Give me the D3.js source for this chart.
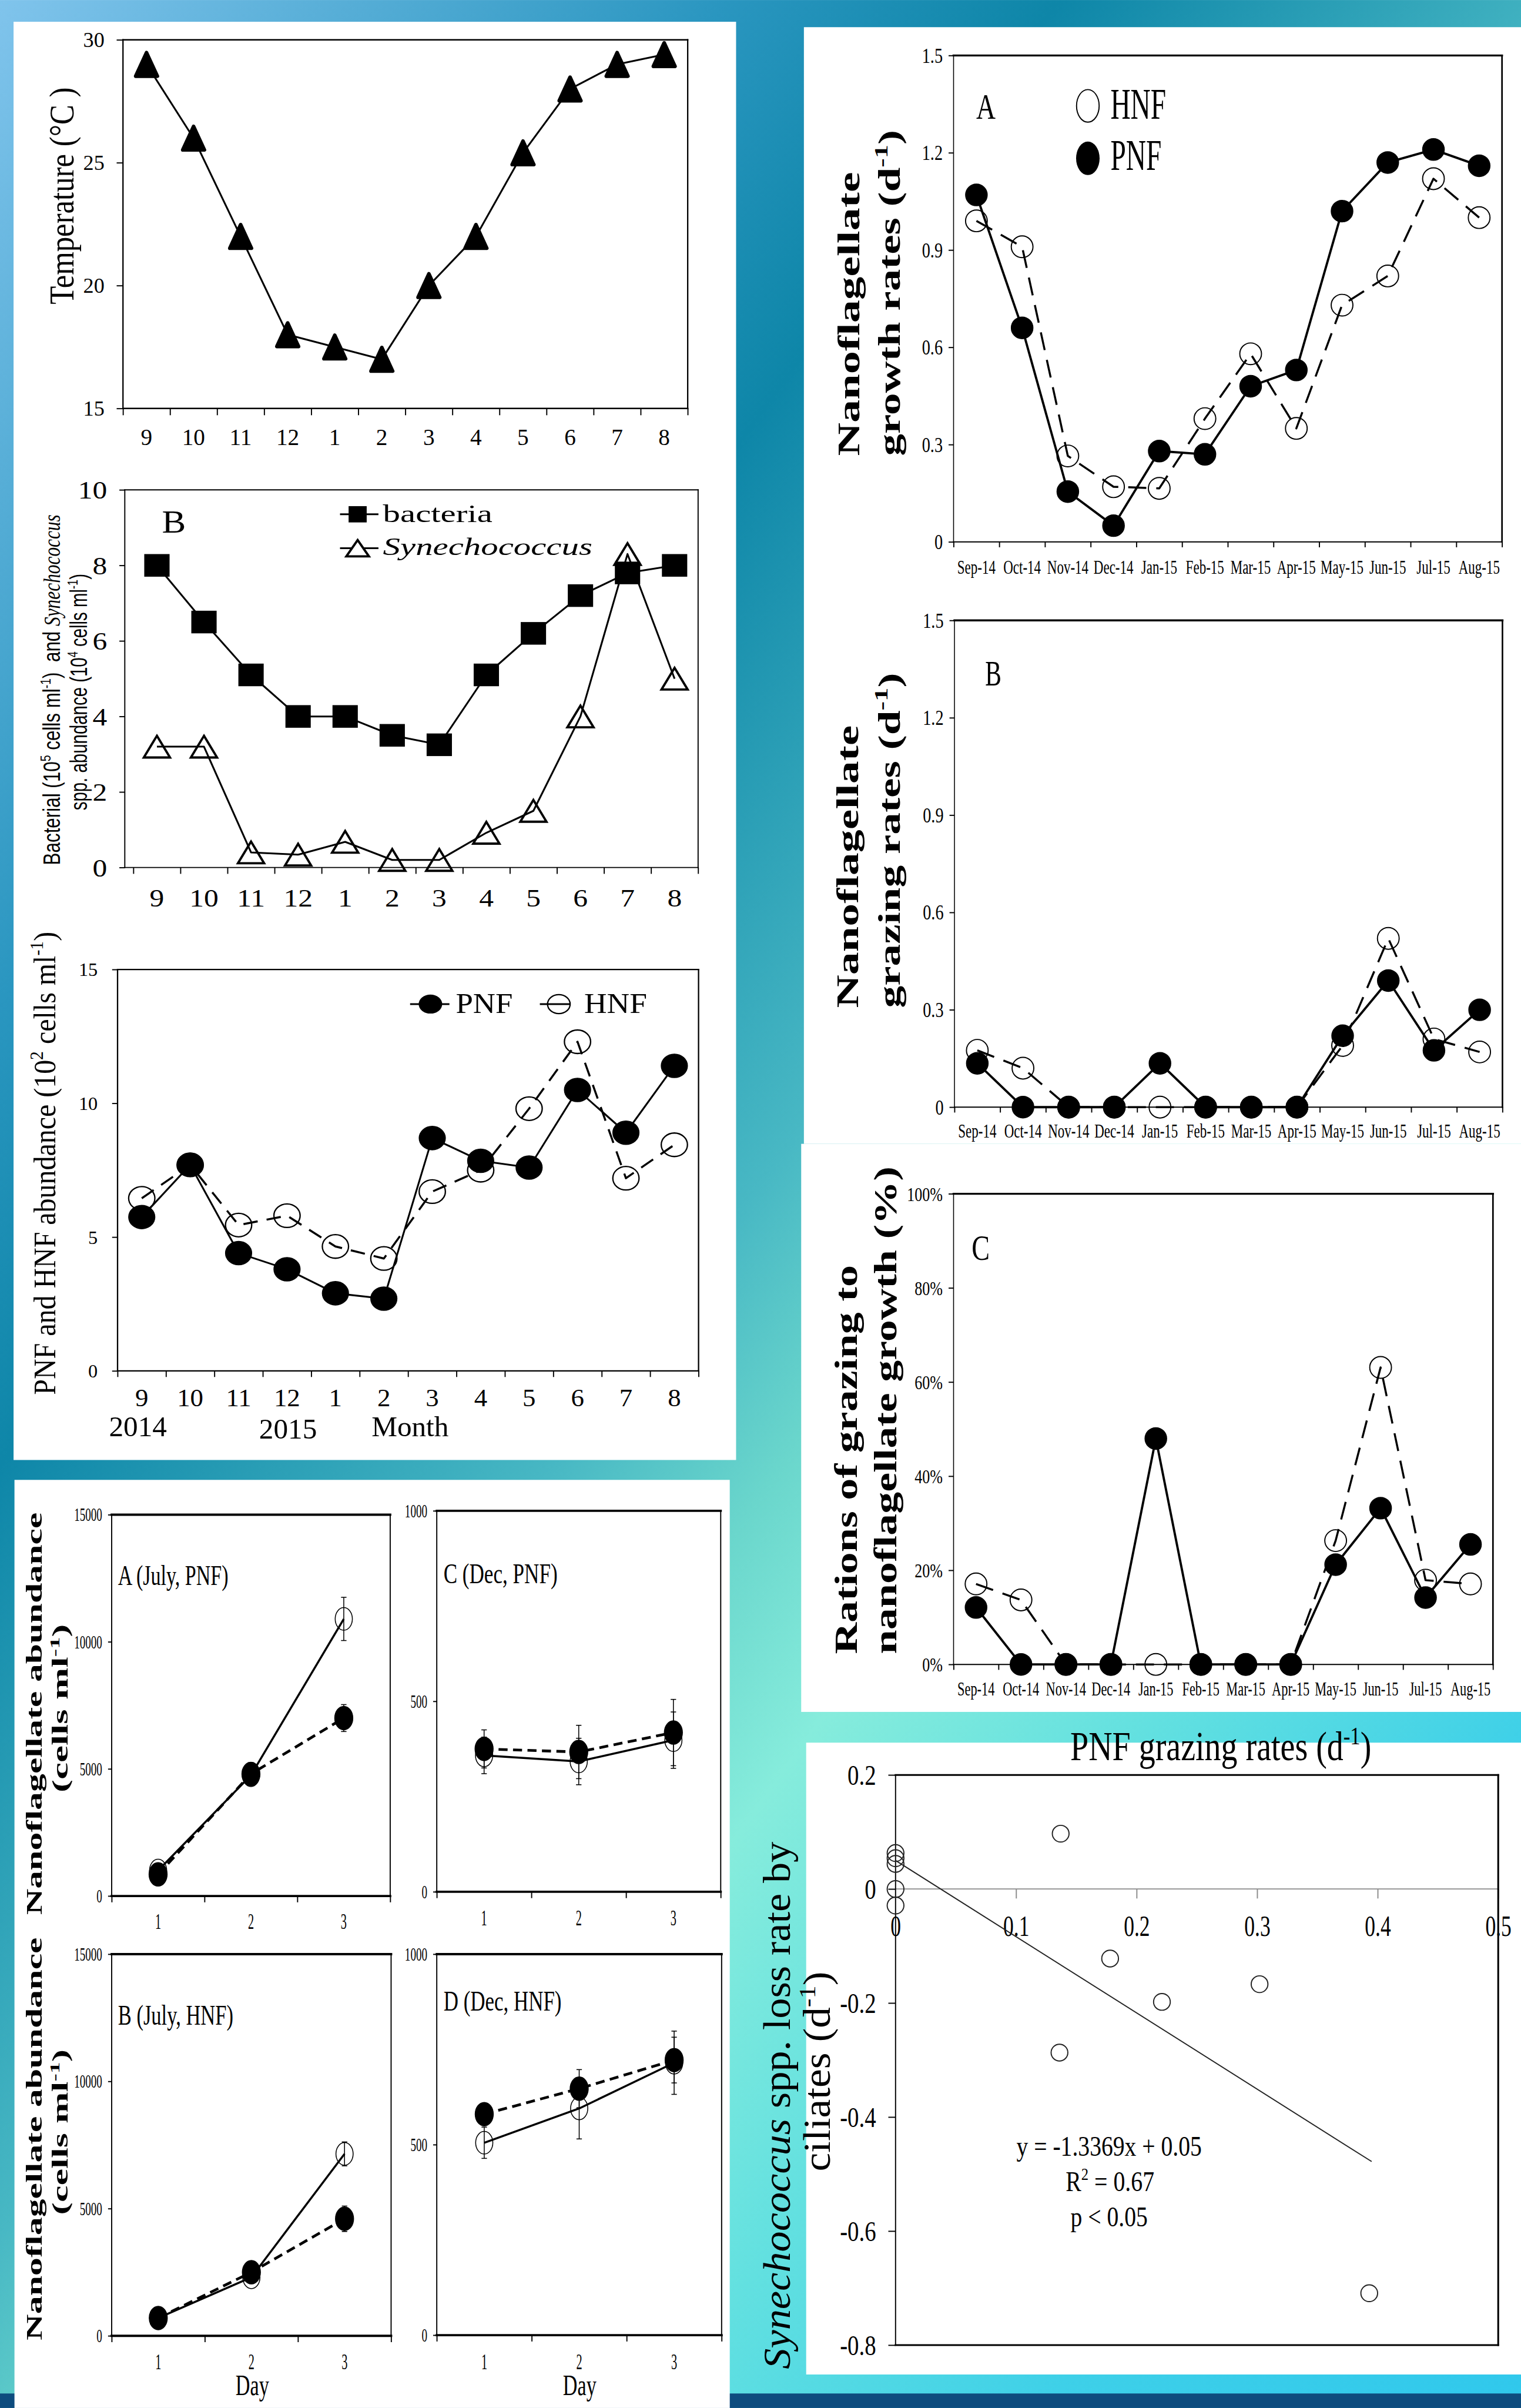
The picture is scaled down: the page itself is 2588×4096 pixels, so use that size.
<!DOCTYPE html>
<html><head><meta charset="utf-8">
<script src="https://cdn.jsdelivr.net/npm/d3@7/dist/d3.min.js"></script>
<style>html,body{margin:0;padding:0;overflow:hidden;background:#fff}svg{display:block}</style>
</head><body>
<script>
// ---------------- data ----------------
const monthNums=["9","10","11","12","1","2","3","4","5","6","7","8"];
const monthLabels=["Sep-14","Oct-14","Nov-14","Dec-14","Jan-15","Feb-15","Mar-15","Apr-15","May-15","Jun-15","Jul-15","Aug-15"];
const temperature=[29,26,22,18,17.5,17,20,22,25.4,28,29,29.4];
const bacteria=[8.0,6.5,5.1,4.0,4.0,3.5,3.25,5.1,6.2,7.2,7.8,8.0];
const synechococcus=[3.2,3.2,0.4,0.34,0.68,0.2,0.2,0.92,1.5,4.0,8.3,5.0];
const pnfAbundance=[5.75,7.7,4.4,3.8,2.9,2.7,8.7,7.85,7.6,10.5,8.9,11.4];
const hnfAbundance=[6.45,7.7,5.45,5.8,4.65,4.2,6.7,7.5,9.8,12.3,7.2,8.45];
const pnfGrowth=[1.07,0.66,0.155,0.05,0.28,0.27,0.48,0.53,1.02,1.17,1.21,1.16];
const hnfGrowth=[0.99,0.91,0.265,0.17,0.165,0.38,0.58,0.35,0.73,0.82,1.12,1.0];
const pnfGrazing=[0.135,0,0,0,0.135,0,0,0,0.22,0.39,0.175,0.30];
const hnfGrazing=[0.175,0.12,0,0,0,0,0,0,0.19,0.52,0.21,0.17];
const pnfRatio=[12.1,0,0,0,48,0,0,0,21.2,33.2,14.2,25.5];
const hnfRatio=[17.1,13.7,0,0,0,0,0,0,26.3,63.1,17.9,17.1];
const tempTicks=[15,20,25,30];
const abundTicks=[0,2,4,6,8,10];
const nanoTicks=[0,5,10,15];
const rateTicks=[0,0.3,0.6,0.9,1.2,1.5];
const ratioTicks=[0,20,40,60,80,100];
const days=["1","2","3"];
const julyTicks=[0,5000,10000,15000];
const decTicks=[0,500,1000];
const julyPnfOpen=[1000,4750,10900], julyPnfOpenErr=[150,300,850];
const julyPnfFilled=[850,4800,7000], julyPnfFilledErr=[120,450,530];
const decPnfOpen=[358,342,398], decPnfOpenErr=[48,61,74];
const decPnfFilled=[375,367,418], decPnfFilledErr=[50,70,87];
const julyHnfOpen=[700,2300,7150], julyHnfOpenErr=[100,150,470];
const julyHnfFilled=[700,2500,4600], julyHnfFilledErr=[100,150,500];
const decHnfOpen=[505,595,715], decHnfOpenErr=[41,80,83];
const decHnfFilled=[580,647,722], decHnfFilledErr=[10,50,60];
const scatterGrazing=[0,0,0,0,0,0.137,0.136,0.178,0.221,0.302,0.393];
const scatterLoss=[0.063,0.054,0.044,0,-0.029,0.097,-0.287,-0.122,-0.198,-0.167,-0.709];
const scatterXTicks=[0,0.1,0.2,0.3,0.4,0.5];
const scatterYTicks=[-0.8,-0.6,-0.4,-0.2,0,0.2];
const fitSlope=-1.3369, fitIntercept=0.05, fitXEnd=0.395;

// ---------------- setup ----------------
const W=3364,H=5324;
const SERIF="'Liberation Serif','Times New Roman',Times,serif";
const SANS="'Liberation Sans',Arial,Helvetica,sans-serif";
const pending=[];
const svg=d3.select("body").append("svg").attr("width",2588).attr("height",4096).attr("viewBox",`0 0 ${W} ${H}`);
const defs=svg.append("defs");
const grad=defs.append("linearGradient").attr("id","bg").attr("gradientUnits","userSpaceOnUse")
  .attr("x1",0).attr("y1",0).attr("x2",4734).attr("y2",3425);
[[0,"#80c4ec"],[.222,"#2a96c0"],[.325,"#0e86a8"],[.496,"#48b8c4"],[.565,"#6ad6cc"],[.633,"#86ecdc"],[.736,"#62e0e0"],[.855,"#3ed0e8"],[1,"#30c8ec"]]
  .forEach(([o,c])=>grad.append("stop").attr("offset",o).attr("stop-color",c));
svg.append("rect").attr("width",W).attr("height",H).attr("fill","url(#bg)");
svg.append("rect").attr("x",0).attr("y",5292).attr("width",W).attr("height",32).attr("fill","#0e4c7e");
[[30,48,1598,3180],[32,3272,1582,2052],[1778,60,1586,2469],[1772,2529,1592,1256],[1783,3853,1581,1397]]
  .forEach(([x,y,w,h])=>svg.append("rect").attr("x",x).attr("y",y).attr("width",w).attr("height",h).attr("fill","#fff"));

function T(parent,x,y,segs,o={}){
  const size=o.size||50;
  const t=parent.append("text").attr("font-family",o.family||SERIF).attr("font-size",size)
    .attr("fill","#000").attr("text-anchor",o.anchor||"start").attr("style","white-space:pre");
  if(o.weight) t.attr("font-weight",o.weight);
  let tr=`translate(${x},${y})`; if(o.rot) tr+=` rotate(${o.rot})`; if(o.sy) tr+=` scale(1,${o.sy})`;
  t.attr("transform",tr);
  if(typeof segs==="string") segs=[segs];
  let shift=0;
  segs.forEach(s=>{
    const [str,f]=Array.isArray(s)?s:[s,""];
    const ts=t.append("tspan").text(str);
    const sup=f.includes("s");
    const want=sup?-size*0.4:0;
    if(want!==shift){ts.attr("dy",want-shift);shift=want;}
    if(sup) ts.attr("font-size",size*0.62);
    if(f.includes("i")) ts.attr("font-style","italic");
    if(f.includes("r")) ts.attr("font-family",SERIF);
  });
  if(o.len) t.attr("textLength",o.len).attr("lengthAdjust","spacingAndGlyphs");
  else if(o.sx) pending.push([t.node(),o.sx]);
  return t;
}
function styleText(sel,size,sx){
  sel.attr("font-family",SERIF).attr("font-size",size).attr("fill","#000");
  if(sx) sel.each(function(){pending.push([this,sx]);});
}
function frame(g,x0,x1,y0,y1,w){
  const L=(a,b,c,d,sw)=>g.append("line").attr("x1",a).attr("y1",b).attr("x2",c).attr("y2",d).attr("stroke","#000").attr("stroke-width",sw).attr("stroke-linecap","square");
  L(x0,y0,x0,y1,w[0]); L(x0,y1,x1,y1,w[1]); L(x0,y0,x1,y0,w[2]); L(x1,y0,x1,y1,w[3]);
}
function panel(o){
  const g=svg.append("g");
  const xb=d3.scaleBand().domain(o.cats).range([o.bx0??o.x0,o.x1]);
  const y=d3.scaleLinear().domain(o.yDom).range([o.y1,o.y0]);
  const ya=g.append("g").attr("transform",`translate(${o.x0},0)`)
    .call(d3.axisLeft(y).tickValues(o.yTicks).tickSize(o.yLen).tickPadding(o.yPad).tickFormat(o.yFmt||(d=>String(d))));
  ya.select(".domain").remove();
  ya.selectAll(".tick line").attr("stroke","#000").attr("stroke-width",o.tickW||2.5);
  ya.selectAll(".tick text").attr("dy","0.34em");
  styleText(ya.selectAll(".tick text"),o.ySize,o.ySx);
  const n=o.cats.length;
  const xt=d3.scaleLinear().domain([0,n]).range(xb.range());
  const xa=g.append("g").attr("transform",`translate(0,${o.y1})`)
    .call(d3.axisBottom(xt).tickValues(d3.range(n+1)).tickSize(o.xLen).tickFormat(""));
  xa.select(".domain").remove();
  xa.selectAll(".tick line").attr("stroke","#000").attr("stroke-width",o.tickW||2.5);
  const xl=g.append("g").attr("transform",`translate(0,${o.xLabY})`)
    .call(d3.axisBottom(xb).tickSize(0).tickPadding(0));
  xl.select(".domain").remove(); xl.selectAll(".tick line").remove();
  xl.selectAll(".tick text").attr("y",0).attr("dy","0.35em");
  styleText(xl.selectAll(".tick text"),o.xSize,o.xSx);
  frame(g,o.x0,o.x1,o.y0,o.y1,o.frame);
  const xf=i=>xb(o.cats[i])+xb.bandwidth()/2;
  return {g,xb,y,xf};
}
function drawLine(P,vals,w,dash){
  P.g.append("path").datum(vals).attr("fill","none").attr("stroke","#000").attr("stroke-width",w)
    .attr("stroke-linejoin","round").attr("stroke-dasharray",dash||null)
    .attr("d",d3.line().x((d,i)=>P.xf(i)).y(d=>P.y(d)));
}
function dots(P,vals,rx,ry,filled,sw){
  P.g.append("g").selectAll("ellipse").data(vals).join("ellipse")
    .attr("cx",(d,i)=>P.xf(i)).attr("cy",d=>P.y(d)).attr("rx",rx).attr("ry",ry)
    .attr("fill",filled?"#000":"none").attr("stroke","#000").attr("stroke-width",sw||2.5);
}
function errs(P,vals,e){
  const g=P.g.append("g").attr("stroke","#000").attr("stroke-width",2);
  vals.forEach((v,i)=>{
    const x=P.xf(i),a=P.y(v-e[i]),b=P.y(v+e[i]);
    g.append("line").attr("x1",x).attr("x2",x).attr("y1",a).attr("y2",b);
    g.append("line").attr("x1",x-6).attr("x2",x+6).attr("y1",a).attr("y2",a);
    g.append("line").attr("x1",x-6).attr("x2",x+6).attr("y1",b).attr("y2",b);
  });
}

// ---------------- Temperature panel ----------------
const PT=panel({cats:monthNums,x0:272,x1:1521,y0:88,y1:903,yDom:[15,30],yTicks:tempTicks,yLen:14,yPad:27,ySize:47,
  xLen:15,xLabY:966,xSize:51,frame:[3,3,3,3]});
drawLine(PT,temperature,4);
PT.g.append("g").selectAll("path").data(temperature).join("path")
  .attr("d",(d,i)=>{const x=PT.xf(i),y=PT.y(d);return `M${x},${y-26}L${x+24},${y+26}L${x-24},${y+26}Z`;})
  .attr("fill","#000").attr("stroke","#000").attr("stroke-width",8).attr("stroke-linejoin","round");
T(svg,162,433,"Temperature (°C )",{size:78,rot:-90,anchor:"middle",len:480});

// ---------------- Bacteria / Synechococcus panel ----------------
const PB=panel({cats:monthNums,x0:276,bx0:295,x1:1544,y0:1083,y1:1918,yDom:[0,10],yTicks:abundTicks,yLen:12,yPad:27,ySize:56,ySx:1.15,
  xLen:14,xLabY:1985,xSize:56,xSx:1.15,frame:[2.5,2.5,2.5,2.5]});
drawLine(PB,bacteria,4);
PB.g.append("g").selectAll("rect").data(bacteria).join("rect")
  .attr("x",(d,i)=>PB.xf(i)-28).attr("y",d=>PB.y(d)-25).attr("width",56).attr("height",50).attr("fill","#000");
drawLine(PB,synechococcus,4);
PB.g.append("g").selectAll("path").data(synechococcus).join("path")
  .attr("d",(d,i)=>{const x=PB.xf(i),y=PB.y(d);return `M${x},${y-24}L${x+29},${y+24}L${x-29},${y+24}Z`;})
  .attr("fill","none").attr("stroke","#000").attr("stroke-width",5).attr("stroke-linejoin","miter");
T(svg,358,1177,"B",{size:70,len:53});
svg.append("line").attr("x1",752).attr("x2",837).attr("y1",1137).attr("y2",1137).attr("stroke","#000").attr("stroke-width",4);
svg.append("rect").attr("x",771).attr("y",1119).attr("width",40).attr("height",36).attr("fill","#000");
T(svg,847,1154,"bacteria",{size:56,len:242});
svg.append("line").attr("x1",752).attr("x2",837).attr("y1",1212).attr("y2",1212).attr("stroke","#000").attr("stroke-width",4);
svg.append("path").attr("d","M791,1194L816,1230L766,1230Z").attr("fill","#fff").attr("stroke","#000").attr("stroke-width",5);
T(svg,847,1227,[["Synechococcus","i"]],{size:56,len:463});
T(svg,133,1525,["Bacterial (10",["5","s"]," cells ml",["-1","s"],")  and ",["Synechococcus","ir"]],{size:52,family:SANS,rot:-90,anchor:"middle",len:775});
T(svg,192,1530,["spp. abundance (10",["4","s"]," cells ml",["-1","s"],")"],{size:52,family:SANS,rot:-90,anchor:"middle",len:523});

// ---------------- PNF / HNF abundance panel ----------------
const P3=panel({cats:monthNums,x0:260,x1:1545,y0:2143.5,y1:3031,yDom:[0,15],yTicks:nanoTicks,yLen:12,yPad:32,ySize:42,
  xLen:13.5,xLabY:3090.6,xSize:54,xSx:1.08,frame:[3,3,3,3]});
drawLine(P3,hnfAbundance,4.5,"32,20");
dots(P3,hnfAbundance,29,26,false,3);
drawLine(P3,pnfAbundance,4);
dots(P3,pnfAbundance,29,26,true,2);
svg.append("line").attr("x1",907).attr("x2",994).attr("y1",2220).attr("y2",2220).attr("stroke","#000").attr("stroke-width",4);
svg.append("ellipse").attr("cx",952).attr("cy",2220).attr("rx",26).attr("ry",21).attr("fill","#000");
T(svg,1008,2240,"PNF",{size:62,len:126});
svg.append("line").attr("x1",1194).attr("x2",1262).attr("y1",2220).attr("y2",2220).attr("stroke","#000").attr("stroke-width",4);
svg.append("ellipse").attr("cx",1236).attr("cy",2220).attr("rx",25).attr("ry",21).attr("fill","none").attr("stroke","#000").attr("stroke-width",3);
T(svg,1292,2240,"HNF",{size:62,len:139});
T(svg,305,3175,"2014",{size:64,anchor:"middle"});
T(svg,637,3181,"2015",{size:64,anchor:"middle"});
T(svg,907,3175,"Month",{size:64,anchor:"middle"});
T(svg,122,2572,["PNF and HNF abundance (10",["2","s"]," cells ml",["-1","s"],")"],{size:68,rot:-90,anchor:"middle",len:1024});

// ---------------- Right panels ----------------
const rateFmt=d=>d===0?"0":d.toFixed(1);
const RA=panel({cats:monthLabels,x0:2109,x1:3322,y0:122.6,y1:1198,yDom:[0,1.5],yTicks:rateTicks,yFmt:rateFmt,yLen:11,yPad:13,ySize:46,ySx:0.8,
  xLen:12,xLabY:1252.6,xSize:44,xSx:0.68,frame:[2,2.5,4.5,3.5]});
drawLine(RA,hnfGrowth,4.5,"40,22"); dots(RA,hnfGrowth,24,24,false,2.5);
drawLine(RA,pnfGrowth,5); dots(RA,pnfGrowth,24,24,true,2);
T(svg,2159,263,"A",{size:80,len:43});
svg.append("ellipse").attr("cx",2406).attr("cy",234).attr("rx",25).attr("ry",36).attr("fill","none").attr("stroke","#000").attr("stroke-width",2.5);
svg.append("ellipse").attr("cx",2406).attr("cy",350).attr("rx",26).attr("ry",37).attr("fill","#000");
T(svg,2456,263,"HNF",{size:95,len:123});
T(svg,2456,376,"PNF",{size:95,len:113});
T(svg,1900,1008,"Nanoflagellate",{size:68,weight:"bold",rot:-90,len:628});
T(svg,1990,1008,["growth rates (d",["-1","s"],")"],{size:68,weight:"bold",rot:-90,len:721});

const RB=panel({cats:monthLabels,x0:2111,x1:3323,y0:1371.7,y1:2447.8,yDom:[0,1.5],yTicks:rateTicks,yFmt:rateFmt,yLen:11,yPad:13,ySize:46,ySx:0.8,
  xLen:12,xLabY:2499.5,xSize:44,xSx:0.68,frame:[2,2.5,4.5,3.5]});
drawLine(RB,hnfGrazing,4.5,"40,22"); dots(RB,hnfGrazing,24,24,false,2.5);
drawLine(RB,pnfGrazing,5); dots(RB,pnfGrazing,24,24,true,2);
T(svg,2179,1515,"B",{size:80,len:36});
T(svg,1898,2228.5,"Nanoflagellate",{size:68,weight:"bold",rot:-90,len:625});
T(svg,1990,2228.5,["grazing rates (d",["-1","s"],")"],{size:68,weight:"bold",rot:-90,len:741});

const RC=panel({cats:monthLabels,x0:2109,x1:3302,y0:2639.4,y1:3680,yDom:[0,100],yTicks:ratioTicks,yFmt:d=>d+"%",yLen:11,yPad:13,ySize:44,ySx:0.77,
  xLen:12,xLabY:3733,xSize:44,xSx:0.66,frame:[2,2.5,4.5,3.5]});
drawLine(RC,hnfRatio,4.5,"40,22"); dots(RC,hnfRatio,24,24,false,2.5);
drawLine(RC,pnfRatio,5); dots(RC,pnfRatio,24,24,true,2);
T(svg,2149,2785,"C",{size:80,len:40});
T(svg,1895,3657,"Rations of grazing to",{size:70,weight:"bold",rot:-90,len:860});
T(svg,1982,3657,"nanoflagellate growth (%)",{size:70,weight:"bold",rot:-90,len:1078});

// ---------------- Bottom-left dilution panels ----------------
const bpOpt={yLen:8,yPad:13,ySize:40,ySx:0.62,xLen:14,xSize:48,xSx:0.55,frame:[2.5,5,5,2.5]};
function dilution(P,open,openErr,filled,filledErr){
  drawLine(P,open,4.5);
  drawLine(P,filled,6,"20,12");
  errs(P,open,openErr); errs(P,filled,filledErr);
  dots(P,open,19,25,false,2);
  dots(P,filled,20,26,true,2);
}
const BA=panel(Object.assign({cats:days,x0:247,x1:863,y0:3349,y1:4192,yDom:[0,15000],yTicks:julyTicks,xLabY:4248},bpOpt));
dilution(BA,julyPnfOpen,julyPnfOpenErr,julyPnfFilled,julyPnfFilledErr);
const BC=panel(Object.assign({cats:days,x0:966,x1:1594,y0:3340.4,y1:4182.7,yDom:[0,1000],yTicks:decTicks,xLabY:4239.7},bpOpt));
dilution(BC,decPnfOpen,decPnfOpenErr,decPnfFilled,decPnfFilledErr);
const BB=panel(Object.assign({cats:days,x0:247,x1:865,y0:4320.6,y1:5164.5,yDom:[0,15000],yTicks:julyTicks,xLabY:5221},bpOpt));
dilution(BB,julyHnfOpen,julyHnfOpenErr,julyHnfFilled,julyHnfFilledErr);
const BD=panel(Object.assign({cats:days,x0:966,x1:1596,y0:4320.6,y1:5163,yDom:[0,1000],yTicks:decTicks,xLabY:5221},bpOpt));
dilution(BD,decHnfOpen,decHnfOpenErr,decHnfFilled,decHnfFilledErr);
T(svg,261,3504,"A (July, PNF)",{size:64,len:244});
T(svg,981,3501,"C (Dec, PNF)",{size:64,len:252});
T(svg,261,4476,"B (July, HNF)",{size:64,len:255});
T(svg,981,4445,"D (Dec, HNF)",{size:64,len:261});
T(svg,558,5295,"Day",{size:66,anchor:"middle",len:74});
T(svg,1282,5295,"Day",{size:66,anchor:"middle",len:74});
T(svg,92,3789,"Nanoflagellate abundance",{size:50,weight:"bold",rot:-90,anchor:"middle",len:890});
T(svg,150,3777,["(cells ml",["-1","s"],")"],{size:48,weight:"bold",rot:-90,anchor:"middle",len:372});
T(svg,92,4729,"Nanoflagellate abundance",{size:50,weight:"bold",rot:-90,anchor:"middle",len:891});
T(svg,150,4714,["(cells ml",["-1","s"],")"],{size:48,weight:"bold",rot:-90,anchor:"middle",len:366});

// ---------------- Scatter panel ----------------
const SG=svg.append("g");
const sxs=d3.scaleLinear().domain([0,0.5]).range([1980.7,3313.6]);
const sys=d3.scaleLinear().domain([-0.8,0.2]).range([5185,3924.4]);
const sFmt=d=>Math.abs(d)<1e-9?"0":d.toFixed(1);
SG.append("line").attr("x1",sxs(0)).attr("x2",sxs(0.5)).attr("y1",sys(0)).attr("y2",sys(0)).attr("stroke","#8a8a8a").attr("stroke-width",2.5);
const sxt=SG.append("g").attr("transform",`translate(0,${sys(0)})`).call(d3.axisBottom(sxs).tickValues(scatterXTicks.slice(1)).tickSize(21).tickFormat(""));
sxt.select(".domain").remove(); sxt.selectAll(".tick line").attr("stroke","#8a8a8a").attr("stroke-width",2.5);
const sxl=SG.append("g").attr("transform","translate(0,4257)").call(d3.axisBottom(sxs).tickValues(scatterXTicks).tickSize(0).tickPadding(0).tickFormat(sFmt));
sxl.select(".domain").remove(); sxl.selectAll(".tick line").remove();
sxl.selectAll(".tick text").attr("y",0).attr("dy","0.35em");
styleText(sxl.selectAll(".tick text"),66,0.7);
const sya=SG.append("g").attr("transform",`translate(${sxs(0)},0)`).call(d3.axisLeft(sys).tickValues(scatterYTicks).tickSize(16).tickPadding(27).tickFormat(sFmt));
sya.select(".domain").remove(); sya.selectAll(".tick line").attr("stroke","#000").attr("stroke-width",2.5);
sya.selectAll(".tick text").attr("dy","0.34em");
styleText(sya.selectAll(".tick text"),64,0.79);
frame(SG,sxs(0),sxs(0.5),sys(0.2),sys(-0.8),[2.5,4,4,4]);
SG.append("line").attr("x1",sxs(0)).attr("y1",sys(fitIntercept)).attr("x2",sxs(fitXEnd)).attr("y2",sys(fitSlope*fitXEnd+fitIntercept))
  .attr("stroke","#222").attr("stroke-width",2.5);
SG.append("g").selectAll("circle").data(scatterGrazing).join("circle")
  .attr("cx",d=>sxs(d)).attr("cy",(d,i)=>sys(scatterLoss[i])).attr("r",18.5)
  .attr("fill","none").attr("stroke","#222").attr("stroke-width",2.5);
T(svg,2453,4767,"y = -1.3369x + 0.05",{size:62,anchor:"middle",len:410});
T(svg,2455,4845,["R",["2","s"]," = 0.67"],{size:62,anchor:"middle",len:196});
T(svg,2453,4923,"p < 0.05",{size:62,anchor:"middle",len:171});
T(svg,2700,3892,["PNF grazing rates (d",["-1","s"],")"],{size:90,anchor:"middle",len:666});
T(svg,1747,4655,[["Synechococcus","i"]," spp. loss rate by"],{size:84,rot:-90,anchor:"middle",len:1166});
T(svg,1836,4580,["ciliates (d",["-1","s"],")"],{size:84,rot:-90,anchor:"middle",len:442});

// ---------------- apply horizontal stretch to tick labels ----------------
pending.forEach(([n,sx])=>{const L=n.getComputedTextLength();n.setAttribute("textLength",L*sx);n.setAttribute("lengthAdjust","spacingAndGlyphs");});
</script>
</body></html>
